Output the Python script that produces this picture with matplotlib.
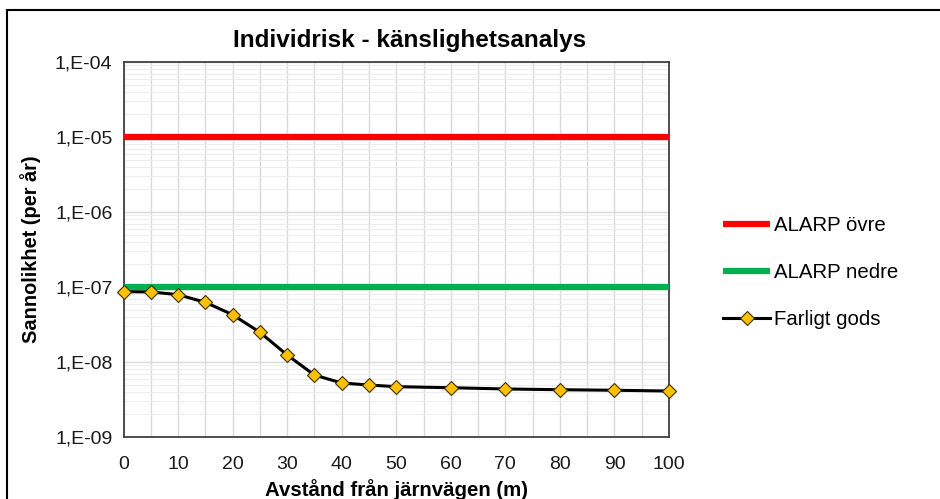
import matplotlib
matplotlib.use("Agg")
import matplotlib.pyplot as plt
import matplotlib.ticker as mticker
from matplotlib.patches import Rectangle
import numpy as np

plt.rcParams['font.family'] = ['Liberation Sans', 'DejaVu Sans']

title = "Individrisk - känslighetsanalys"
xlabel = "Avstånd från järnvägen (m)"
ylabel = "Sannolikhet (per år)"

distance = [0, 5, 10, 15, 20, 25, 30, 35, 40, 45, 50, 60, 70, 80, 90, 100]
farligt_gods = [8.66e-8, 8.6e-8, 7.9e-8, 6.25e-8, 4.27e-8, 2.49e-8, 1.24e-8,
                6.7e-9, 5.25e-9, 4.93e-9, 4.69e-9, 4.54e-9, 4.37e-9, 4.27e-9,
                4.2e-9, 4.1e-9]
alarp_ovre = 1e-5
alarp_nedre = 1e-7
x_ticks = [0, 10, 20, 30, 40, 50, 60, 70, 80, 90, 100]
y_ticks = [1e-9, 1e-8, 1e-7, 1e-6, 1e-5, 1e-4]
y_tick_labels = ["1,E-09", "1,E-08", "1,E-07", "1,E-06", "1,E-05", "1,E-04"]

W, H = 940, 499
fig = plt.figure(figsize=(W / 100, H / 100), dpi=100)
ax = fig.add_axes([123.5 / W, 1 - 437 / H, (669 - 123.5) / W, (437 - 62) / H])

ax.set_yscale('log')
ax.set_xlim(0, 100)
ax.set_ylim(1e-9, 1e-4)

ax.plot([0, 100], [alarp_ovre, alarp_ovre], color='#FF0000', lw=4.5,
        solid_capstyle='butt', label='ALARP övre', zorder=3)
ax.plot([0, 100], [alarp_nedre, alarp_nedre], color='#00B050', lw=4.5,
        solid_capstyle='butt', label='ALARP nedre', zorder=3)
ax.plot(distance, farligt_gods, color='black', lw=2.2, marker='D',
        markersize=7.5, markerfacecolor='#FFC000', markeredgecolor='#3a3000',
        markeredgewidth=0.8, label='Farligt gods', zorder=4, clip_on=False)

ax.set_xticks(x_ticks)
ax.set_xticks(np.arange(0, 101, 5), minor=True)
ax.set_yticks(y_ticks)
ax.yaxis.set_major_formatter(mticker.FixedFormatter(y_tick_labels))
ax.yaxis.set_minor_locator(mticker.LogLocator(base=10, subs=np.arange(2, 10)))
ax.yaxis.set_minor_formatter(mticker.NullFormatter())

ax.grid(True, which='major', color='#D9D9D9', lw=1.0, zorder=0)
ax.grid(True, which='minor', axis='x', color='#D9D9D9', lw=1.0, zorder=0)
ax.grid(True, which='minor', axis='y', color='#EDEDED', lw=0.8, zorder=0)
ax.set_axisbelow(True)

ax.tick_params(which='both', length=0, labelsize=14, colors='#1a1a1a')
ax.tick_params(axis='y', pad=8)
ax.tick_params(axis='x', pad=14)
for s in ax.spines.values():
    s.set_color('#404040')
    s.set_linewidth(1.3)

fig.text(410 / W, 1 - 40 / H, title, fontsize=17.5, fontweight='bold',
         ha='center', va='center')
ax.set_xlabel(xlabel, fontsize=14.7, fontweight='bold', labelpad=4)
ax.set_ylabel(ylabel, fontsize=14.4, fontweight='bold', labelpad=10)

handles, labels = ax.get_legend_handles_labels()
fig.legend(handles, labels, loc='center left',
           bbox_to_anchor=(705 / W, 1 - 272.5 / H), frameon=False,
           fontsize=14.7, handlelength=2.3, handletextpad=0.2,
           labelspacing=1.37)

fig.patches.append(Rectangle((7 / W, -0.05), 1.0, 1 - 10 / H + 0.05,
                             transform=fig.transFigure, fill=False,
                             edgecolor='black', lw=1.5, zorder=10))

fig.savefig('out.png', dpi=100)
